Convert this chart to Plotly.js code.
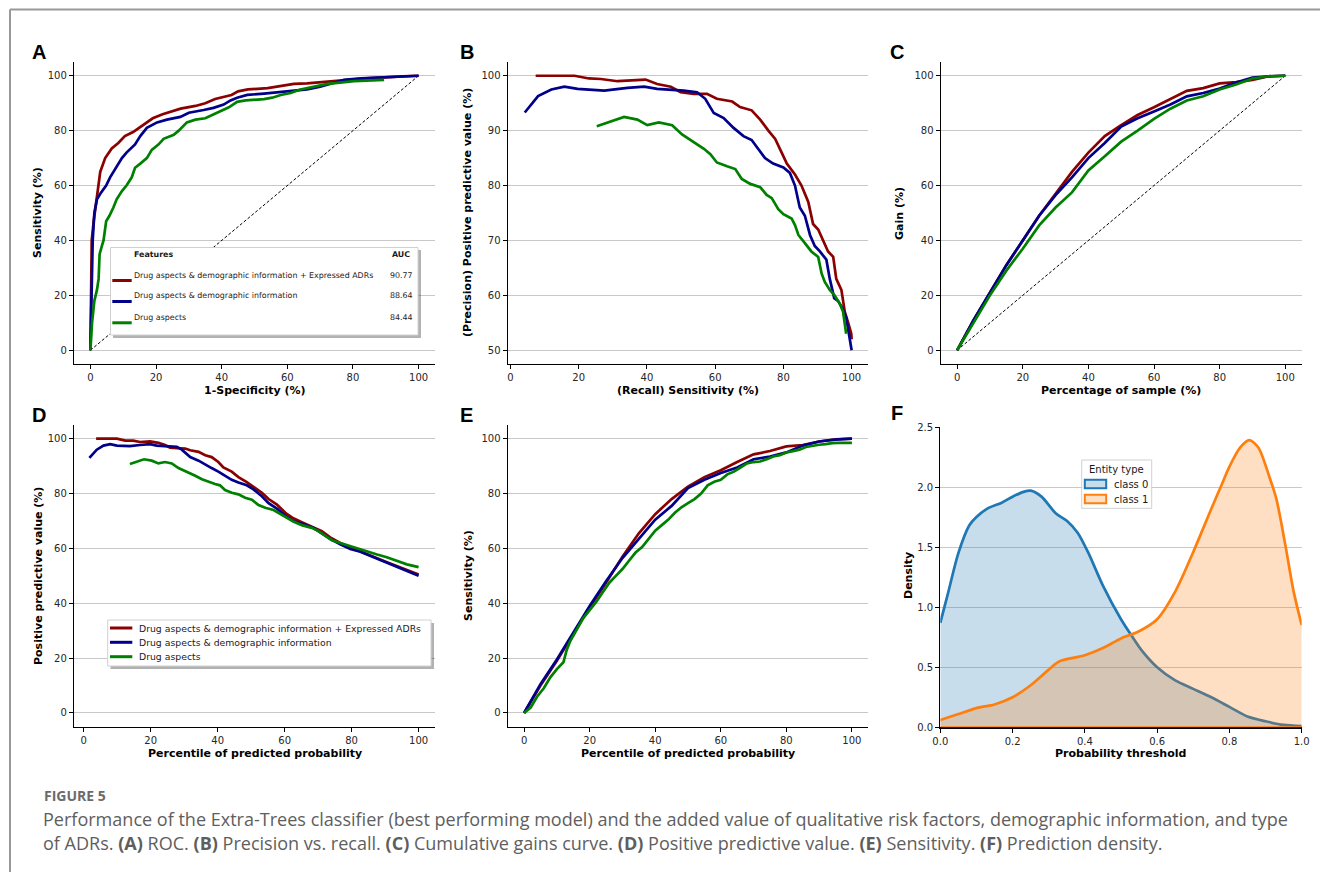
<!DOCTYPE html>
<html>
<head>
<meta charset="utf-8">
<script src="https://cdn.plot.ly/plotly-3.0.1.min.js"></script>
<style>
html,body{margin:0;padding:0;background:#fff;overflow:hidden;}
#chart{width:1320px;height:872px;}
</style>
</head>
<body>
<div id="chart"></div>
<script>
// ---------------- DATA ----------------
const seriesNames = [
  "Drug aspects & demographic information + Expressed ADRs",
  "Drug aspects & demographic information",
  "Drug aspects"
];
const aucValues = ["90.77", "88.64", "84.44"];
const seriesColors = ["#8b0000", "#00008b", "#008000"];

// (A) ROC
const rocRedX = [0,0.2,0.4,1,2,3,4.5,5,6.5,8.5,10.5,13,16,19,22,25,27.5,32,35,38,41,43,45,48,54,57,62,66,74,84,95,100];
const rocRedY = [0,20,40,47,57,65,70,71,73.5,75.5,78,79.5,82,84.5,86,87,88,89,90,91.5,92.5,93,94.3,95,95.5,96,97,97.2,98,99,99.8,100];
const rocBlueX = [0,0.3,0.7,1.2,2,3,4.8,6,7.5,9.6,11,13.6,15.2,17.2,20.3,23.3,27.4,30,34.5,37.5,40.6,42.7,44.7,47.8,52.9,57,62,66,70,74,77.3,82.4,89.5,100];
const rocBlueY = [0,20,40,50,55,57,60,63,66,70,72,75,78,81,83,84,85,86.5,87.5,88.3,89.5,91,92,93,93.5,94,94.5,95,96,97.5,98.5,99,99.5,100];
const rocGreenX = [0,0.5,1.2,2,2.5,2.8,3.5,4,4.8,5.8,7,8,9.6,11,12.6,13.6,15.2,17.2,18.7,20.8,22.3,25.4,26.9,29.4,32,35,37.6,40.1,42.2,44.7,47.3,52.9,55.4,58,61,64,68,72.2,76,80.3,89.5];
const rocGreenY = [0,10,18,22,26,35,38,40,47,49,52,55,58,60,63,66.5,68,70,73,75,77,78.5,80,83,84,84.5,86,87.5,88.5,90.5,91,91.5,92,93,93.7,95,96,97,97.5,98,98.5];
const chanceX = [0, 100];
const chanceY = [0, 100];

// (B) Precision vs recall
const prRedX = [7.4,18.8,23,26.5,31.4,35.3,39.6,43,47,49.9,53.7,57.6,60.5,65,67.3,70.7,73.2,75.6,77.6,79.5,81,83.4,85.3,87.3,88.7,90.2,91.6,93.1,94.6,95.5,97,98,99,99.9,100];
const prRedY = [100,100,99.5,99.4,99,99.2,99.3,98.5,98,97,96.7,96.7,95.8,95.3,94.3,93.7,92,90,88.5,86,84,82,80,77,73,72,70,68,67,63,61,57,55,53,52];
const prBlueX = [4.2,8.1,12,15.8,19.7,27.5,34.3,39.2,43,47.9,50.8,54.7,57.1,59.6,62.5,65.4,68.3,70.7,72.7,74.6,77,80,81.9,83.4,84.8,86.3,87.8,89.2,90.7,92.6,93.6,94.9,96,97,98.4,99.2,100];
const prBlueY = [93.3,96.3,97.5,98,97.6,97.3,97.8,98,97.6,97.4,97.3,97,95.8,93.2,92.3,90.5,89,88.3,86.5,85,84,83.3,82.3,80,76,74.5,71,69,68,66.5,63,59.5,59,58,56,53,50];
const prGreenX = [25.3,29.4,33.3,37.2,40.1,43.5,47.4,50.3,53.7,56.7,58.6,60.5,63.5,65.9,67.8,70.3,73.2,75.1,76.6,78.5,80,82.4,83.4,84.4,86.3,88.2,90.2,91.2,92.1,93.6,95,96.5,97.5,98,98.4];
const prGreenY = [90.8,91.7,92.5,92,91,91.5,91,89.3,88,86.7,85.7,84.2,83.5,83,81.2,80.3,79.7,78.3,77.7,75.7,74.8,74,72.8,71,69.5,68,67,64,62.5,61,60,58.5,57,55,53];

// (C) Cumulative gains
const gainX = [0,5,10,15,20,25,30,35,40,45,50,55,60,65,70,75,80,85,90,95,100];
const gainRed = [0,11,21,31,40,49,57,65,72,78,82,85.7,88.5,91.5,94.5,95.5,97.2,97.7,98.5,99.8,100];
const gainBlue = [0,11,21,31,40,49,56.5,63,70,75.5,81.5,84.5,87,89.5,92.5,93.7,95.3,97.5,99.3,99.8,100];
const gainGreen = [0,10,20,29,37,45.5,52,57.5,65.5,70.7,76,80,84.3,88,91,92.5,95,96.8,99,99.8,100];

// (D) Positive predictive value
const ppvRedX = [3.7,9.9,12.4,14.8,16.8,19.8,22.3,24.3,25.8,28.8,30.3,31.8,34.3,36.3,38.2,40.2,41.7,44.2,46.2,48.7,50.7,53.2,55.2,57.7,60.2,62.6,65.6,68.6,71.1,73.6,76.6,79.6,82.6,85.6,88.5,91.5,94.5,97.5,100];
const ppvRedY = [100,100,99.3,99.3,98.8,99,98.5,97.7,96.7,96.4,96.4,95.8,95.2,94,93.3,91.5,89.5,88,86,84.2,82.5,80.3,78,76,73,71,69.3,67.8,66.3,64,62,60.4,59,57.5,56,54.5,53,51.5,50.5];
const ppvBlueX = [1.7,3.9,5.9,7.9,9.9,13.8,16.8,19.8,21.8,24.8,27.8,29.3,31.8,34.3,36.3,38.2,40.2,42.2,44.2,46.2,48.7,50.7,53.2,55.2,57.7,60.2,62.6,65.6,68.6,71.1,73.6,76.6,79.6,82.6,85.6,88.5,91.5,94.5,97.5,100];
const ppvBlueY = [93,96,97.5,98,97.5,97.3,97.7,98,97.5,97.3,97,96,93.3,92,90.5,89.3,88,86.5,85,84,83,81.5,79,76.5,74.5,72,70,68.8,67.5,65.5,63.5,61.5,59.8,58.8,57.3,56,54.5,53,51.5,50];
const ppvGreenX = [13.8,16.3,18,20.3,22.3,24.3,26.3,28.3,30.8,33.3,35.3,37.3,39.2,40.7,42.2,44.2,46.2,48.2,50.2,52.2,54.2,56.7,58.7,60.7,62.6,65.1,68.1,70.1,72.1,74.1,76.6,79.1,82.1,84.6,87.6,90.5,93.5,96.5,100];
const ppvGreenY = [90.8,91.7,92.5,92,91,91.5,91,89.3,88,86.5,85.2,84.2,83.5,83,81.3,80.3,79.7,78.5,77.8,75.8,74.8,74,72.5,71,69.8,68.5,67.5,66.3,64.5,63,62,61,60,58.8,57.8,56.8,55.5,54.2,53.2];

// (E) Sensitivity vs percentile
const sensX = [0,5,10,15,20,25,30,35,40,45,50,55,60,65,70,75,80,85,90,95,100];
const sensRed = [0,10,19,29,38.5,47.5,57,65.5,72.5,78,82.5,86,88.5,91.5,94.3,95.5,97.2,97.7,99,99.8,100];
const sensBlue = [0,10.5,19.5,29.5,39,48,56.5,63.5,70.5,75.5,82,85,87.5,89.5,92.5,93.5,95,97.5,99,99.7,100];
const sensGreenX = [0,2,4,6,8,10,12,13,14,16,18,20,22,24,26,28,30,32,34,36,38,40,42,44,46,48,50,52,54,56,58,60,62,64,66,68,70,72,74,76,78,80,82,84,86,88,90,92,94,96,100];
const sensGreenY = [0,2,6,9,13,16,18.5,23,26,30,34.5,37.5,40.5,44,47.5,50,52.5,55.5,58.5,60.5,63.5,66.5,68.5,70.5,73,75,76.5,78,80,83,84.3,85,87,88,89.5,91,91.5,91.7,92.5,93.5,94,95,95.5,96,97,97.5,97.8,98,98.4,98.5,98.5];

// (F) Prediction density
const densityNames = ["class 0", "class 1"];
const dens0X = [0,0.02,0.05,0.08,0.1,0.13,0.17,0.2,0.23,0.25,0.28,0.32,0.35,0.38,0.41,0.45,0.5,0.53,0.56,0.6,0.65,0.7,0.75,0.8,0.85,0.9,0.95,1.0];
const dens0Y = [0.87,1.1,1.45,1.68,1.75,1.82,1.87,1.92,1.96,1.97,1.92,1.78,1.72,1.62,1.45,1.18,0.9,0.76,0.63,0.5,0.39,0.32,0.25,0.17,0.09,0.05,0.02,0.01];
const dens1X = [0,0.05,0.1,0.15,0.2,0.25,0.3,0.33,0.4,0.45,0.5,0.55,0.6,0.65,0.7,0.75,0.78,0.8,0.83,0.855,0.88,0.91,0.93,0.954,0.977,1.0];
const dens1Y = [0.06,0.11,0.16,0.19,0.25,0.35,0.48,0.55,0.6,0.66,0.74,0.8,0.9,1.13,1.46,1.82,2.03,2.17,2.33,2.39,2.33,2.09,1.9,1.53,1.14,0.85];

const pctTicks = [0,20,40,60,80,100];
const prTicksY = [50,60,70,80,90,100];
const probTicks = [0,0.2,0.4,0.6,0.8,1.0];
const densTicks = [0,0.5,1.0,1.5,2.0,2.5];

const panelLetters = ["A","B","C","D","E","F"];
const xTitles = ["1-Specificity (%)","(Recall) Sensitivity (%)","Percentage of sample (%)","Percentile of predicted probability","Percentile of predicted probability","Probability threshold"];
const yTitles = ["Sensitivity (%)","(Precision) Positive predictive value (%)","Gain (%)","Positive predictive value (%)","Sensitivity (%)","Density"];

const captionLabel = "FIGURE 5";
const captionLine1 = "Performance of the Extra-Trees classifier (best performing model) and the added value of qualitative risk factors, demographic information, and type";
const captionLine2 = "of ADRs. <b>(A)</b> ROC. <b>(B)</b> Precision vs. recall. <b>(C)</b> Cumulative gains curve. <b>(D)</b> Positive predictive value. <b>(E)</b> Sensitivity. <b>(F)</b> Prediction density.";

// ---------------- LAYOUT HELPERS ----------------
const W = 1320, H = 872;
const PX = v => v / W;
const PY = v => 1 - v / H;
const FONT = "DejaVu Sans, Verdana, sans-serif";

// panel boxes in pixels: [left, right, top, bottom]
const boxes = [
  [74, 435, 62, 364],
  [507.7, 868, 62, 364],
  [940.7, 1301.7, 62, 364],
  [74, 435, 425, 726.7],
  [507.7, 868.3, 425, 726.7],
  [940.3, 1301.7, 427, 727.3]
];
const xRanges = [[-5,105],[-0.8,104.8],[-5,105],[-2.9,104.9],[-5,105],[0,1]];
const yRanges = [[-5,105],[47.5,102.5],[-5,105],[-5,105],[-5,105],[0,2.5]];
const xTickSets = [pctTicks,pctTicks,pctTicks,pctTicks,pctTicks,probTicks];
const yTickSets = [pctTicks,prTicksY,pctTicks,pctTicks,pctTicks,densTicks];
const letterPos = [[39,52],[466.5,52],[897,52],[39,414.5],[466,414.5],[896.5,413]];
// axis-title centres in pixels
const xTitlePos = [[254.5,390],[688,390],[1121,390],[255,753],[688,753],[1120.5,753]];
const yTitlePos = [[38,213],[468,213],[900,213],[38,576],[468,576],[908,576]];

const layout = {
  width: W, height: H,
  autosize: false,
  margin: {l:0, r:0, t:0, b:0, pad:0},
  paper_bgcolor: "#fff",
  plot_bgcolor: "rgba(0,0,0,0)",
  showlegend: false,
  hovermode: false,
  font: {family: FONT, color: "#262626"},
  annotations: [],
  shapes: []
};

for (let i = 0; i < 6; i++) {
  const [l, r, t, b] = boxes[i];
  const sx = i === 0 ? "" : String(i + 1);
  const isF = i === 5;
  layout["xaxis" + sx] = {
    domain: [PX(l), PX(r)],
    anchor: "y" + sx,
    range: xRanges[i],
    tickvals: xTickSets[i],
    tickformat: isF ? ".1f" : "d",
    showgrid: false, zeroline: false,
    showline: true, linecolor: "#000", linewidth: 1.2,
    ticks: "outside", ticklen: 4, tickwidth: 1, tickcolor: "#000",
    tickfont: {family: FONT, size: 10, color: "#262626"},
    automargin: false
  };
  layout["yaxis" + sx] = {
    domain: [PY(b), PY(t)],
    anchor: "x" + sx,
    range: yRanges[i],
    tickvals: yTickSets[i],
    tickformat: isF ? ".1f" : "d",
    showgrid: true, gridcolor: "#c8c8c8", gridwidth: 1,
    zeroline: false,
    showline: true, linecolor: "#000", linewidth: 1.2,
    ticks: "outside", ticklen: 4, tickwidth: 1, tickcolor: "#000",
    tickfont: {family: FONT, size: 10, color: "#262626"},
    automargin: false
  };
  // panel letter
  layout.annotations.push({
    xref: "paper", yref: "paper", x: PX(letterPos[i][0]), y: PY(letterPos[i][1]),
    xanchor: "center", yanchor: "middle", showarrow: false,
    text: "<b>" + panelLetters[i] + "</b>",
    font: {family: "Liberation Sans, Arial, sans-serif", size: 20, color: "#000"}
  });
  // axis titles
  layout.annotations.push({
    xref: "paper", yref: "paper", x: PX(xTitlePos[i][0]), y: PY(xTitlePos[i][1]),
    xanchor: "center", yanchor: "middle", showarrow: false,
    text: "<b>" + xTitles[i] + "</b>", font: {family: FONT, size: 11, color: "#000"}
  });
  layout.annotations.push({
    xref: "paper", yref: "paper", x: PX(yTitlePos[i][0]), y: PY(yTitlePos[i][1]),
    xanchor: "center", yanchor: "middle", showarrow: false, textangle: -90,
    text: "<b>" + yTitles[i] + "</b>", font: {family: FONT, size: 11, color: "#000"}
  });
}

// ---------------- TRACES ----------------
const traces = [];
function line(x, y, color, ax, extra) {
  const sx = ax === 0 ? "" : String(ax + 1);
  return Object.assign({
    type: "scatter", mode: "lines", x: x, y: y,
    xaxis: "x" + sx, yaxis: "y" + sx,
    line: {color: color, width: 2.7},
    hoverinfo: "skip", cliponaxis: true
  }, extra || {});
}
const dashLine = {line: {color: "#000", width: 1, dash: "3px,2px"}};

// A
traces.push(line(chanceX, chanceY, "#000", 0, dashLine));
traces.push(line(rocRedX, rocRedY, seriesColors[0], 0, {name: seriesNames[0]}));
traces.push(line(rocBlueX, rocBlueY, seriesColors[1], 0, {name: seriesNames[1]}));
traces.push(line(rocGreenX, rocGreenY, seriesColors[2], 0, {name: seriesNames[2]}));
// B
traces.push(line(prRedX, prRedY, seriesColors[0], 1, {name: seriesNames[0]}));
traces.push(line(prBlueX, prBlueY, seriesColors[1], 1, {name: seriesNames[1]}));
traces.push(line(prGreenX, prGreenY, seriesColors[2], 1, {name: seriesNames[2]}));
// C
traces.push(line(chanceX, chanceY, "#000", 2, dashLine));
traces.push(line(gainX, gainRed, seriesColors[0], 2, {name: seriesNames[0]}));
traces.push(line(gainX, gainBlue, seriesColors[1], 2, {name: seriesNames[1]}));
traces.push(line(gainX, gainGreen, seriesColors[2], 2, {name: seriesNames[2]}));
// D
traces.push(line(ppvRedX, ppvRedY, seriesColors[0], 3, {name: seriesNames[0]}));
traces.push(line(ppvBlueX, ppvBlueY, seriesColors[1], 3, {name: seriesNames[1]}));
traces.push(line(ppvGreenX, ppvGreenY, seriesColors[2], 3, {name: seriesNames[2]}));
// E
traces.push(line(sensX, sensRed, seriesColors[0], 4, {name: seriesNames[0]}));
traces.push(line(sensX, sensBlue, seriesColors[1], 4, {name: seriesNames[1]}));
traces.push(line(sensGreenX, sensGreenY, seriesColors[2], 4, {name: seriesNames[2]}));
// F
traces.push(line(dens0X, dens0Y, "#1f77b4", 5, {
  name: densityNames[0], fill: "tozeroy", fillcolor: "rgba(31,119,180,0.25)",
  line: {color: "#1f77b4", width: 2.7, shape: "spline", smoothing: 0.8}
}));
traces.push(line(dens1X, dens1Y, "#ff7f0e", 5, {
  name: densityNames[1], fill: "tozeroy", fillcolor: "rgba(255,127,14,0.25)",
  line: {color: "#ff7f0e", width: 2.7, shape: "spline", smoothing: 0.8}
}));
// baseline edge of the density fill
layout.shapes.push({type: "line", xref: "x6", yref: "y6", x0: 0, x1: 1, y0: 0, y1: 0,
  line: {color: "#ff7f0e", width: 2}, layer: "above"});

// ---------------- LEGENDS (drawn as boxes + text) ----------------
function rectPx(x0, x1, y0, y1, fill, lineColor, lw) {
  return {type: "rect", xref: "paper", yref: "paper", layer: "above",
    x0: PX(x0), x1: PX(x1), y0: PY(y1), y1: PY(y0),
    fillcolor: fill, line: {color: lineColor, width: lw}};
}
function segPx(x0, x1, y, color, w) {
  return {type: "line", xref: "paper", yref: "paper", layer: "above",
    x0: PX(x0), x1: PX(x1), y0: PY(y), y1: PY(y), line: {color: color, width: w}};
}
function textPx(x, y, text, size, anchor, color) {
  return {xref: "paper", yref: "paper", x: PX(x), y: PY(y), xanchor: anchor || "left", yanchor: "middle",
    showarrow: false, text: text, borderpad: 0,
    font: {family: FONT, size: size, color: color || "#1a1a1a"}};
}

// Legend A (with AUC column)
layout.shapes.push(rectPx(113, 421, 250, 338, "rgba(0,0,0,0.3)", "rgba(0,0,0,0)", 0));
layout.shapes.push(rectPx(110.5, 418, 247.5, 335, "#fff", "#d0d0d0", 1));
layout.annotations.push(textPx(133, 254.5, "<b>Features</b>", 7.9));
layout.annotations.push(textPx(391, 254.5, "<b>AUC</b>", 7.9));
const legARows = [275, 296, 317.3];
for (let i = 0; i < 3; i++) {
  layout.shapes.push(segPx(112.3, 131.7, legARows[i] + 5.5, seriesColors[i], 3));
  layout.annotations.push(textPx(133, legARows[i], seriesNames[i], 7.9));
  layout.annotations.push(textPx(414, legARows[i], aucValues[i], 7.9, "right"));
}

// Legend D
layout.shapes.push(rectPx(110.5, 434, 623, 669, "rgba(0,0,0,0.3)", "rgba(0,0,0,0)", 0));
layout.shapes.push(rectPx(107.7, 431, 620, 666, "#fff", "#d0d0d0", 1));
const legDRows = [628, 642.3, 656.7];
for (let i = 0; i < 3; i++) {
  layout.shapes.push(segPx(110, 132.3, legDRows[i], seriesColors[i], 3));
  layout.annotations.push(textPx(138.3, legDRows[i], seriesNames[i], 9.3));
}

// Legend F
layout.shapes.push(rectPx(1081.7, 1151.7, 460, 508.3, "rgba(255,255,255,0.85)", "#d0d0d0", 1));
layout.annotations.push(textPx(1116.7, 469, "Entity type", 10, "center"));
const legFRows = [484, 499];
const legFFill = ["rgba(31,119,180,0.25)", "rgba(255,127,14,0.25)"];
const legFLine = ["#1f77b4", "#ff7f0e"];
for (let i = 0; i < 2; i++) {
  layout.shapes.push(rectPx(1084.8, 1106.2, legFRows[i] - 4.3, legFRows[i] + 4.3, legFFill[i], legFLine[i], 2));
  layout.annotations.push(textPx(1113.3, legFRows[i], densityNames[i], 10));
}

// ---------------- FRAME + CAPTION ----------------
layout.shapes.push({type: "line", xref: "paper", yref: "paper", x0: PX(10), x1: 1, y0: PY(9.5), y1: PY(9.5),
  line: {color: "#999", width: 2}, layer: "above"});
layout.shapes.push({type: "line", xref: "paper", yref: "paper", x0: PX(10), x1: PX(10), y0: PY(9.5), y1: 0,
  line: {color: "#999", width: 2}, layer: "above"});

const capFont = "Open Sans, Lato, sans-serif";
layout.annotations.push({xref: "paper", yref: "paper", x: PX(42), y: PY(795), xanchor: "left", yanchor: "middle",
  showarrow: false, text: "<b>" + captionLabel + "</b>", font: {family: capFont, size: 14, color: "#6b6b6b"}});
layout.annotations.push({xref: "paper", yref: "paper", x: PX(41), y: PY(818.5), xanchor: "left", yanchor: "middle",
  showarrow: false, text: captionLine1, font: {family: capFont, size: 18.05, color: "#5e5e5e"}});
layout.annotations.push({xref: "paper", yref: "paper", x: PX(41), y: PY(843), xanchor: "left", yanchor: "middle",
  showarrow: false, text: captionLine2, font: {family: capFont, size: 18.05, color: "#5e5e5e"}});

Plotly.newPlot("chart", traces, layout, {staticPlot: true, displayModeBar: false});
</script>
</body>
</html>
